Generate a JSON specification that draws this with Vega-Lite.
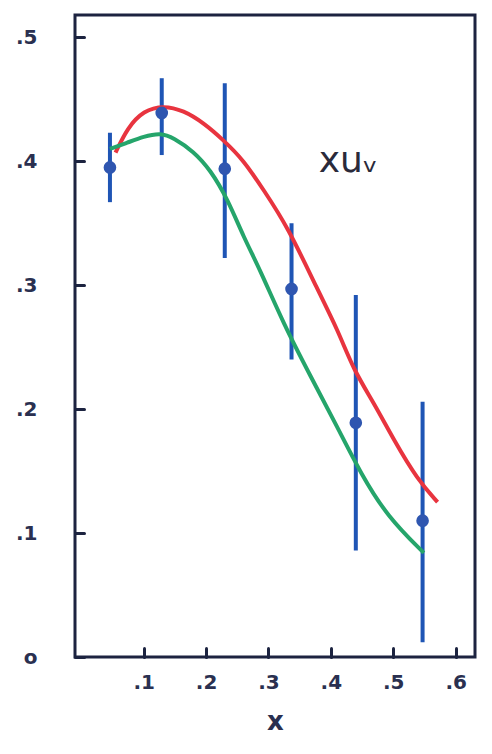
{
  "$schema": "https://vega.github.io/schema/vega-lite/v6.json",
  "width": 400,
  "height": 642,
  "autosize": {"type": "none"},
  "padding": {"left": 75, "top": 15, "right": 17, "bottom": 97},
  "background": "white",
  "config": {
    "view": {"stroke": "#1c2340", "strokeWidth": 3},
    "font": "DejaVu Sans"
  },
  "datasets": {
    "pts": [
      {"x": 0.046, "y": 0.395, "lo": 0.367, "hi": 0.423},
      {"x": 0.129, "y": 0.439, "lo": 0.405, "hi": 0.467},
      {"x": 0.230, "y": 0.394, "lo": 0.322, "hi": 0.463},
      {"x": 0.337, "y": 0.297, "lo": 0.240, "hi": 0.350},
      {"x": 0.440, "y": 0.189, "lo": 0.086, "hi": 0.292},
      {"x": 0.547, "y": 0.110, "lo": 0.012, "hi": 0.206}
    ],
    "red": [
      {"x": 0.055, "y": 0.407}, {"x": 0.074, "y": 0.427}, {"x": 0.100, "y": 0.441},
      {"x": 0.132, "y": 0.445}, {"x": 0.164, "y": 0.441}, {"x": 0.196, "y": 0.431},
      {"x": 0.228, "y": 0.417}, {"x": 0.260, "y": 0.401}, {"x": 0.292, "y": 0.377},
      {"x": 0.331, "y": 0.347}, {"x": 0.379, "y": 0.296}, {"x": 0.411, "y": 0.264},
      {"x": 0.437, "y": 0.231}, {"x": 0.469, "y": 0.205}, {"x": 0.501, "y": 0.175},
      {"x": 0.539, "y": 0.143}, {"x": 0.571, "y": 0.125}
    ],
    "green": [
      {"x": 0.046, "y": 0.410}, {"x": 0.074, "y": 0.415}, {"x": 0.100, "y": 0.420},
      {"x": 0.127, "y": 0.423}, {"x": 0.148, "y": 0.419}, {"x": 0.180, "y": 0.408},
      {"x": 0.207, "y": 0.393}, {"x": 0.235, "y": 0.369}, {"x": 0.260, "y": 0.339},
      {"x": 0.287, "y": 0.312}, {"x": 0.324, "y": 0.269}, {"x": 0.368, "y": 0.226},
      {"x": 0.411, "y": 0.185}, {"x": 0.448, "y": 0.148}, {"x": 0.491, "y": 0.113},
      {"x": 0.549, "y": 0.084}
    ],
    "lab": [{"x": 0.428, "y": 0.40, "t": "xuᵥ"}]
  },
  "encoding": {
    "x": {
      "field": "x", "type": "quantitative",
      "scale": {"domain": [-0.01, 0.631], "nice": false, "zero": false},
      "axis": {
        "values": [0.1, 0.2, 0.3, 0.4, 0.5, 0.6],
        "labelExpr": "replace(format(datum.value, '.1f'), '0.', '.')",
        "offset": -9, "tickSize": 9, "tickWidth": 3, "tickColor": "#1c2340", "tickCap": "round",
        "domain": false, "grid": false,
        "labelPadding": 15, "labelFontSize": 20, "labelFontWeight": "bold", "labelColor": "#2a3050",
        "title": "x", "titleFontSize": 26, "titleFontWeight": "bold", "titleColor": "#2a3050", "titlePadding": 16
      }
    },
    "y": {
      "field": "y", "type": "quantitative",
      "scale": {"domain": [0, 0.518], "nice": false},
      "axis": {
        "values": [0, 0.1, 0.2, 0.3, 0.4, 0.5],
        "labelExpr": "datum.value == 0 ? 'o' : replace(format(datum.value, '.1f'), '0.', '.')",
        "offset": -9, "tickSize": 9, "tickWidth": 3, "tickColor": "#1c2340", "tickCap": "round",
        "domain": false, "grid": false,
        "labelPadding": 38, "labelFontSize": 20, "labelFontWeight": "bold", "labelColor": "#2a3050",
        "title": null
      }
    }
  },
  "layer": [
    {
      "data": {"name": "pts"},
      "mark": {"type": "rule", "color": "#1f55b5", "strokeWidth": 4},
      "encoding": {"y": {"field": "lo", "type": "quantitative"}, "y2": {"field": "hi"}}
    },
    {
      "data": {"name": "red"},
      "mark": {"type": "line", "color": "#e8343f", "strokeWidth": 4, "interpolate": "basis"},
      "encoding": {}
    },
    {
      "data": {"name": "green"},
      "mark": {"type": "line", "color": "#25a56b", "strokeWidth": 4, "interpolate": "basis"},
      "encoding": {}
    },
    {
      "data": {"name": "pts"},
      "mark": {"type": "circle", "color": "#2f56b0", "opacity": 1, "size": 160},
      "encoding": {}
    },
    {
      "data": {"name": "lab"},
      "mark": {"type": "text", "fontSize": 36, "color": "#2a2a3a", "font": "DejaVu Sans"},
      "encoding": {"text": {"field": "t"}}
    }
  ]
}
